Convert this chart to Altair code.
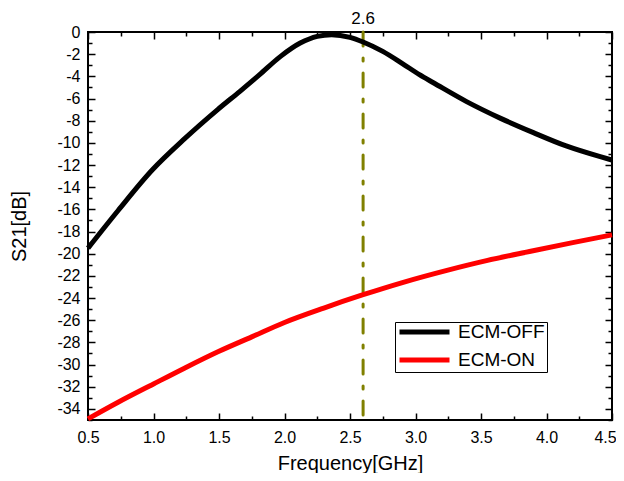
import altair as alt
import pandas as pd

# ---- data ----
freq_off = [0.5, 0.73, 0.99, 1.24, 1.49, 1.66, 1.81, 1.97, 2.12, 2.25, 2.36, 2.5, 2.6,
            2.75, 2.9, 3.03, 3.14, 3.39, 3.65, 3.9, 4.15, 4.41, 4.5]
s21_off = [-19.5, -16.1, -12.45, -9.6, -7.0, -5.35, -3.85, -2.2, -1.0, -0.39, -0.24, -0.48,
           -0.9, -1.75, -2.85, -3.85, -4.6, -6.28, -7.79, -9.08, -10.28, -11.25, -11.55]
freq_on = [0.5, 0.73, 1.0, 1.24, 1.5, 1.75, 2.0, 2.3, 2.6, 2.9, 3.24, 3.55, 3.87, 4.2, 4.5]
s21_on = [-34.9, -33.4, -31.75, -30.3, -28.8, -27.5, -26.2, -24.9, -23.7, -22.6, -21.5,
          -20.6, -19.8, -19.0, -18.3]
series_names = ["ECM-OFF", "ECM-ON"]
series_colors = ["#000000", "#ff0000"]
marker_freq = [2.6]
marker_label = ["2.6"]

x_major = [0.5, 1.0, 1.5, 2.0, 2.5, 3.0, 3.5, 4.0, 4.5]
x_minor = [0.75, 1.25, 1.75, 2.25, 2.75, 3.25, 3.75, 4.25]
y_major = [0, -2, -4, -6, -8, -10, -12, -14, -16, -18, -20, -22, -24, -26, -28, -30, -32, -34]
y_minor = [-1, -3, -5, -7, -9, -11, -13, -15, -17, -19, -21, -23, -25, -27, -29, -31, -33, -35]
x_domain = [0.5, 4.5]
y_domain = [-35, 0]

df = pd.concat([
    pd.DataFrame({"f": freq_off, "s": s21_off, "series": series_names[0]}),
    pd.DataFrame({"f": freq_on, "s": s21_on, "series": series_names[1]}),
])
mk = pd.DataFrame({"f": marker_freq, "label": marker_label})

FONT = "Liberation Sans"
xs = alt.Scale(domain=x_domain, nice=False, zero=False)
ys = alt.Scale(domain=y_domain, nice=False, zero=False)

MAJ, MIN = 7, 4


def ax(orient, values, size, labels=False, title=None, fmt=None, pad=8, tpad=10, extra=None):
    kw = dict(orient=orient, values=values, tickSize=size, offset=-size, domain=False,
              grid=False, tickColor="black", tickWidth=1.5, labels=labels,
              title=title)
    if labels:
        kw.update(labelFont=FONT, labelFontSize=16, labelColor="black", labelPadding=pad,
                  labelFlush=False, labelOverlap=False)
        if fmt:
            kw["labelExpr"] = fmt
    if title:
        kw.update(titleFont=FONT, titleFontSize=20, titleFontWeight="normal",
                  titleColor="black", titlePadding=tpad)
    if extra:
        kw.update(extra)
    return alt.Axis(**kw)


# keep the last x label inside the canvas edge
last_label_shift = {"labelOffset": {"condition": {"test": "datum.value >= 4.5", "value": -7},
                                    "value": 0}}

lines = alt.Chart(df).mark_line(strokeWidth=5, interpolate="monotone").encode(
    x=alt.X("f:Q", scale=xs,
            axis=ax("bottom", x_major, MAJ, True, "Frequency[GHz]",
                    "format(datum.value, '.1f')", 9, 8, last_label_shift)),
    y=alt.Y("s:Q", scale=ys,
            axis=ax("left", y_major, MAJ, True, "S21[dB]", "toString(datum.value)", 8, 27)),
    color=alt.Color("series:N",
                    scale=alt.Scale(domain=series_names, range=series_colors),
                    legend=alt.Legend(orient="none", legendX=307, legendY=290, title=None,
                                      strokeColor="black", fillColor="white", padding=2,
                                      symbolType="stroke", symbolSize=2500,
                                      symbolStrokeWidth=5, labelFont=FONT, labelFontSize=19,
                                      labelColor="black", clipHeight=16, rowPadding=9,
                                      labelOffset=6, cornerRadius=0)),
)


def ghost(xa, ya):
    return alt.Chart(df).mark_point(opacity=0).encode(
        x=alt.X("f:Q", scale=xs, axis=xa),
        y=alt.Y("s:Q", scale=ys, axis=ya),
    )


g1 = ghost(ax("bottom", x_minor, MIN), ax("left", y_minor, MIN))
g2 = ghost(ax("top", x_major, MAJ), ax("right", y_major, MAJ))
g3 = ghost(ax("top", x_minor, MIN), ax("right", y_minor, MIN))

rule = alt.Chart(mk).mark_rule(color="#808000", strokeWidth=3, strokeDash=[14, 12, 3, 12],
                               strokeCap="round").encode(
    x=alt.X("f:Q", scale=xs, axis=None))

txt = alt.Chart(mk).mark_text(font=FONT, fontSize=17, color="black",
                              baseline="alphabetic").encode(
    x=alt.X("f:Q", scale=xs, axis=None),
    y=alt.value(-8),
    text="label:N")

chart = alt.layer(g1, g2, g3, rule, lines, txt).resolve_axis(
    x="independent", y="independent"
).properties(
    width=524, height=388, background="white",
    autosize=alt.AutoSizeParams(type="none"),
    padding={"left": 80, "top": 24, "right": 4, "bottom": 53},
).configure_view(
    stroke="black", strokeWidth=2
)

chart.save("out.html", embed_options={"renderer": "svg", "actions": False})
